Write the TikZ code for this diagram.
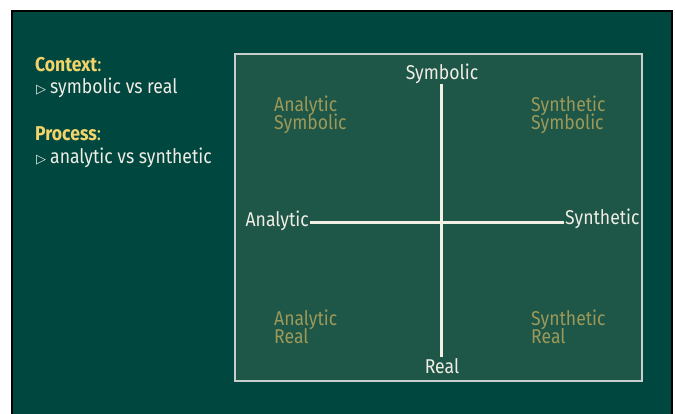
\documentclass[tikz,border=0pt]{standalone}
\usepackage{fontspec}
\setmainfont{Fira Sans}[FakeStretch=0.88]
\newfontfamily\symfont{DejaVu Sans}
\begin{document}
\begin{tikzpicture}[x=1pt,y=1pt,
  axislbl/.style={text=txtwhite,font=\fontsize{20}{22}\selectfont,inner sep=1pt},
  quadlbl/.style={text=quadolive,font=\fontsize{20}{18}\selectfont,align=left,anchor=base west,inner sep=0pt},
  headlbl/.style={text=headyellow,font=\fontsize{20}{22}\selectfont,anchor=base west,inner sep=0pt},
  itemlbl/.style={text=txtwhite,font=\fontsize{20}{22}\selectfont,anchor=base west,inner sep=0pt}]
\definecolor{slidebg}{rgb}{0,0.278,0.247}
\definecolor{boxbg}{rgb}{0.118,0.337,0.284}
\definecolor{boxline}{rgb}{0.78,0.81,0.80}
\definecolor{txtwhite}{rgb}{0.94,0.93,0.90}
\definecolor{axisline}{rgb}{0.95,0.94,0.90}
\definecolor{headyellow}{rgb}{0.95,0.83,0.42}
\definecolor{quadolive}{rgb}{0.61,0.60,0.35}
\newcommand{\itemmark}{{\symfont\fontsize{13}{13}\selectfont ▷}\hspace{4pt}}
\useasboundingbox (0,0) rectangle (675,-413);
\coordinate[] (S1) at (12,-11);
\coordinate[] (S2) at (672,-420);
\coordinate[] (B1) at (235,-54);
\coordinate[] (B2) at (642,-381);
\fill[white] (0,0) rectangle (675,-413);
\draw[line width=2pt,fill=slidebg] (S1) rectangle (S2);
\draw[line width=1.3pt,draw=boxline,fill=boxbg] (B1) rectangle (B2);
% left column
\node[headlbl] (ctx) at (35,-71) {\textbf{Context}:};
\node[itemlbl] (ctxitem) at (36,-93) {\itemmark symbolic vs real};
\node[headlbl] (proc) at (35,-140) {\textbf{Process}:};
\node[itemlbl] (procitem) at (36,-163) {\itemmark analytic vs synthetic};
% axes
\node[axislbl,anchor=base] (sym) at (442,-79) {Symbolic};
\node[axislbl,anchor=base] (real) at (442,-373) {Real};
\node[axislbl,anchor=base east] (ana) at (310,-226) {Analytic};
\node[axislbl,anchor=base west] (syn) at (564,-224) {Synthetic};
\draw[line width=3pt,draw=axisline] (sym.south -| 441,0) -- (real.north -| 441,0);
\draw[line width=3pt,draw=axisline] (ana.east |- 0,-222) -- (syn.west |- 0,-222);
% quadrants
\node[quadlbl] (qas) at (274,-129) {Analytic\\[-3pt]Symbolic};
\node[quadlbl] (qss) at (531,-129) {Synthetic\\[-3pt]Symbolic};
\node[quadlbl] (qar) at (274,-343) {Analytic\\[-3pt]Real};
\node[quadlbl] (qsr) at (531,-343) {Synthetic\\[-3pt]Real};
\end{tikzpicture}
\end{document}
